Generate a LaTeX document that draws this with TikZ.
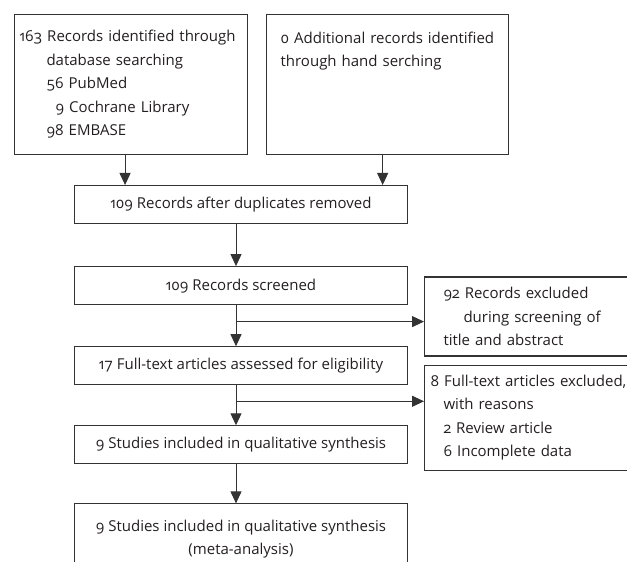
\documentclass[tikz,border=0pt]{standalone}
\usepackage{fontspec}
\setmainfont{Open Sans}[Numbers=OldStyle]
\usetikzlibrary{positioning, arrows.meta, calc}
\definecolor{linegray}{HTML}{333333}
\definecolor{inkblack}{HTML}{231F20}
\tikzset{
  stage/.style={
    draw=linegray, line width=1.1pt,
    minimum width=333pt, minimum height=38pt,
    inner sep=0pt, align=center, text=inkblack,
    font=\fontsize{15}{23.5}\selectfont
  },
  sourcebox/.style={
    draw=linegray, line width=1.1pt,
    minimum height=140pt, inner xsep=5pt, inner ysep=0pt,
    align=left, text=inkblack,
    font=\fontsize{15}{23.5}\selectfont
  },
  exclbox/.style={
    draw=linegray, line width=1.1pt,
    minimum width=230pt, text width=218pt,
    inner xsep=6pt, inner ysep=0pt,
    align=left, text=inkblack,
    font=\fontsize{15}{23.5}\selectfont
  },
  flow/.style={-{Triangle[length=12pt,width=11pt]}, line width=1pt, draw=linegray},
}

\begin{document}
\begin{tikzpicture}[x=1pt, y=1pt]
  \useasboundingbox (0,0) rectangle (627,562);
  \clip (0,0) rectangle (627,562);

  \node[sourcebox, text width=223pt, anchor=north west] (db) at (14,548) {%
    163 Records identified through\\
    \hspace*{27pt}database searching\\
    \hspace*{27pt}56 PubMed\\
    \hspace*{36pt}9 Cochrane Library\\
    \hspace*{27pt}98 EMBASE};
  \node[sourcebox, text width=232pt, right=18pt of db] (hand) {%
    \hspace*{9pt}0 Additional records identified\\
    \hspace*{9pt}through hand serching\\~\\~\\~};

  \node[stage, anchor=north] (dup) at (241,377) {109 Records after duplicates removed};
  \node[stage, below=42pt of dup] (screen) {109 Records screened};
  \node[stage, below=41pt of screen] (full) {17 Full-text articles assessed for eligibility};
  \node[stage, below=40pt of full] (qual) {9 Studies included in qualitative synthesis};
  \node[stage, below=39pt of qual, minimum height=70pt] (meta) {%
    9 Studies included in qualitative synthesis\\(meta-analysis)};

  \node[exclbox, minimum height=79pt, anchor=west] (exscreen) at (424,245.5) {%
    \hspace*{13pt}92 Records excluded\\
    \hspace*{33pt}during screening of\\
    \hspace*{13pt}title and abstract};
  \node[exclbox, minimum height=105pt, below=8pt of exscreen] (exfull) {%
    8 Full-text articles excluded,\\
    \hspace*{13pt}with reasons\\
    \hspace*{13pt}2 Review article\\
    \hspace*{13pt}6 Incomplete data};

  \draw[flow] ([xshift=-6pt]db.south) -- ($(db.south |- dup.north)+(-6,0)$);
  \draw[flow] ([xshift=-5pt]hand.south) -- ($(hand.south |- dup.north)+(-5,0)$);
  \draw[flow] ([xshift=-5pt]dup.south) -- ([xshift=-5pt]screen.north);
  \draw[flow] ([xshift=-5pt]screen.south) -- ([xshift=-5pt]full.north);
  \draw[flow] ([xshift=-5pt]full.south) -- ([xshift=-5pt]qual.north);
  \draw[flow] ([xshift=-5pt]qual.south) -- ([xshift=-5pt]meta.north);

  \coordinate (split1) at ($([xshift=-5pt]screen.south)!0.4!([xshift=-5pt]full.north)$);
  \coordinate (split2) at ($([xshift=-5pt]full.south)!0.4!([xshift=-5pt]qual.north)$);
  \draw[flow] (split1) -- (split1 -| exscreen.west);
  \draw[flow] (split2) -- (split2 -| exfull.west);
\end{tikzpicture}
\end{document}
